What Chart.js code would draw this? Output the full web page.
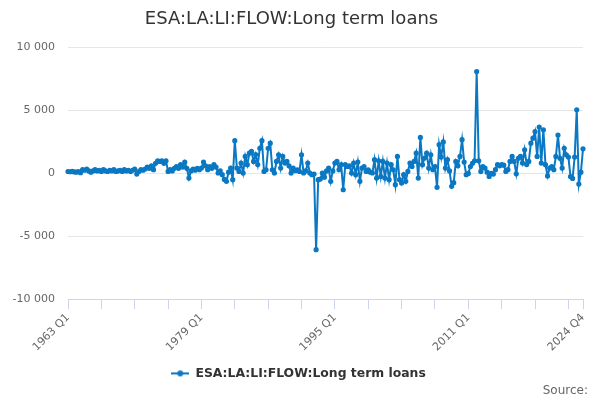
<!DOCTYPE html>
<html>
<head>
<meta charset="utf-8">
<script src="https://cdn.jsdelivr.net/npm/chart.js@4.4.1/dist/chart.umd.min.js"></script>
<style>
  html, body { margin: 0; padding: 0; background: #fff; }
  #wrap { width: 600px; height: 400px; }
</style>
</head>
<body>
<div id="wrap"><canvas id="chart" width="600" height="400"></canvas></div>
<script>
// quarterly flows, grouped by decade
const flow1963to1969 = [150, 130, 170, 120, 100, 150, 50, 300, 250, 350, 200, 100, 200, 300, 200, 250, 150, 300, 200, 150, 250, 200, 300, 150, 200, 250, 150, 300];
const flow1970s = [200, 250, 150, 250, 350, -50, 150, 300, 250, 350, 500, 400, 600, 300, 800, 1000, 950, 1000, 800, 1000, 160, 300, 200, 400, 550, 400, 690, 500, 900, 400, -370, 200, 350, 250, 400, 300, 420, 900, 600, 300];
const flow1980s = [550, 400, 690, 500, 30, 200, -100, -480, -630, 100, 420, -500, 2600, 420, 160, 820, 30, 1350, 690, 1610, 1750, 950, 1500, 700, 2000, 2600, 160, 290, 2000, 2400, 290, 30, 950, 1480, 420, 1350, 820, 950, 600, 30];
const flow1990s = [420, 210, 290, 160, 1480, 30, 200, 820, 30, -100, -50, -6060, -500, -450, 30, -300, 200, 420, -630, 200, 820, 950, 300, 700, -1300, 690, 550, 600, 30, 820, -100, 900, -630, 420, 550, 160, 290, 100, 30, 1090];
const flow2000s = [-370, 1000, -240, 950, -370, 820, -500, 690, 290, -900, 1350, -500, -770, -100, -630, 160, 820, 550, 950, 1610, -370, 2860, 690, 1220, 1610, 420, 1480, 290, 550, -1110, 2280, 1300, 2500, 420, 1090, 200, -1030, -740, 950, 600];
const flow2010s = [1350, 2680, 900, -100, 0, 550, 800, 1000, 8100, 1000, 160, 550, 420, 100, -240, 0, -50, 300, 690, 600, 700, 650, 160, 300, 950, 1350, 950, -30, 1200, 1350, 820, 1880, 700, 950, 2400, 2800, 3330, 1350, 3680, 820];
const flow2020s = [3470, 690, -200, 420, 550, 300, 1350, 3050, 1200, 420, 2000, 1480, 1300, -250, -400, 1300, 5060, -850, 100, 1950];

const seriesName = 'ESA:LA:LI:FLOW:Long term loans';
const firstYear = 1963;
const lastYear = 2024;
const xTickLabels = ['1963 Q1', '1979 Q1', '1995 Q1', '2011 Q1', '2024 Q4'];
const yTicks = [-10000, -5000, 0, 5000, 10000];

const values = [].concat(flow1963to1969, flow1970s, flow1980s, flow1990s, flow2000s, flow2010s, flow2020s);

const quarters = [];
for (let y = firstYear; y <= lastYear; y++) {
  for (let q = 1; q <= 4; q++) quarters.push(y + ' Q' + q);
}

const blue = '#0a78c2';
const font = "'DejaVu Sans', sans-serif";

// legend marker: short line with a dot on it
const marker = document.createElement('canvas');
marker.width = 18;
marker.height = 8;
const mctx = marker.getContext('2d');
mctx.strokeStyle = blue;
mctx.lineWidth = 2;
mctx.beginPath();
mctx.moveTo(0, 4);
mctx.lineTo(18, 4);
mctx.stroke();
mctx.fillStyle = blue;
mctx.beginPath();
mctx.arc(9, 4, 3, 0, Math.PI * 2);
mctx.fill();

// 10000 -> "10 000"
function spaced(v) {
  const s = String(Math.abs(v)).replace(/\B(?=(\d{3})+(?!\d))/g, ' ');
  return (v < 0 ? '-' : '') + s;
}

// small nudges: "Source:" past the plot edge, legend a little lower and right
const nudgeBoxes = {
  id: 'nudgeBoxes',
  afterLayout(chart) {
    chart.boxes.forEach(b => {
      if (b.options && b.options.text === 'Source:') {
        b.left += 5;
        b.right += 5;
      }
    });
    const lg = chart.legend;
    if (lg) {
      lg.top += 6;
      lg.bottom += 6;
      lg.left += 7;
      lg.right += 7;
    }
  }
};

new Chart(document.getElementById('chart'), {
  type: 'line',
  data: {
    labels: quarters,
    datasets: [{
      label: seriesName,
      data: values,
      borderColor: blue,
      backgroundColor: blue,
      borderWidth: 2,
      pointRadius: 1.6,
      pointHoverRadius: 2,
      tension: 0
    }]
  },
  plugins: [nudgeBoxes],
  options: {
    responsive: false,
    animation: false,
    devicePixelRatio: 1,
    layout: { padding: { left: 0, right: 17, top: 0, bottom: 2 } },
    plugins: {
      title: {
        display: true,
        text: seriesName,
        color: '#333333',
        font: { family: font, size: 18, weight: 'normal' },
        padding: { top: 9, bottom: 17 }
      },
      subtitle: {
        display: true,
        text: 'Source:',
        position: 'bottom',
        align: 'end',
        color: '#666666',
        font: { family: font, size: 12, weight: 'normal' },
        padding: 0
      },
      legend: {
        position: 'bottom',
        labels: {
          usePointStyle: true,
          pointStyle: marker,
          pointStyleWidth: 18,
          color: '#333333',
          font: { family: font, size: 12.4, weight: 'bold' },
          padding: 3
        }
      },
      tooltip: { enabled: false }
    },
    scales: {
      x: {
        afterFit: function (scale) {
          scale.height = 59;
        },
        ticks: {
          autoSkip: false,
          maxRotation: 45,
          minRotation: 45,
          color: '#666666',
          font: { family: font, size: 11 },
          padding: 2,
          callback: function (value, index) {
            const lab = quarters[index];
            if (xTickLabels.includes(lab)) return lab;
            if (index % 16 === 0) return '';
            return null;
          }
        },
        grid: {
          drawOnChartArea: false,
          drawTicks: true,
          tickLength: 10,
          tickColor: '#ccd6eb'
        },
        border: { color: '#ccd6eb', width: 1 }
      },
      y: {
        min: -10000,
        max: 10000,
        afterBuildTicks: function (scale) {
          scale.ticks = yTicks.map(v => ({ value: v }));
        },
        afterFit: function (scale) {
          scale.width = 68;
        },
        ticks: {
          color: '#666666',
          font: { family: font, size: 11 },
          padding: 13,
          callback: v => spaced(v)
        },
        grid: { color: '#e6e6e6', drawTicks: false },
        border: { display: false }
      }
    }
  }
});
</script>
</body>
</html>
